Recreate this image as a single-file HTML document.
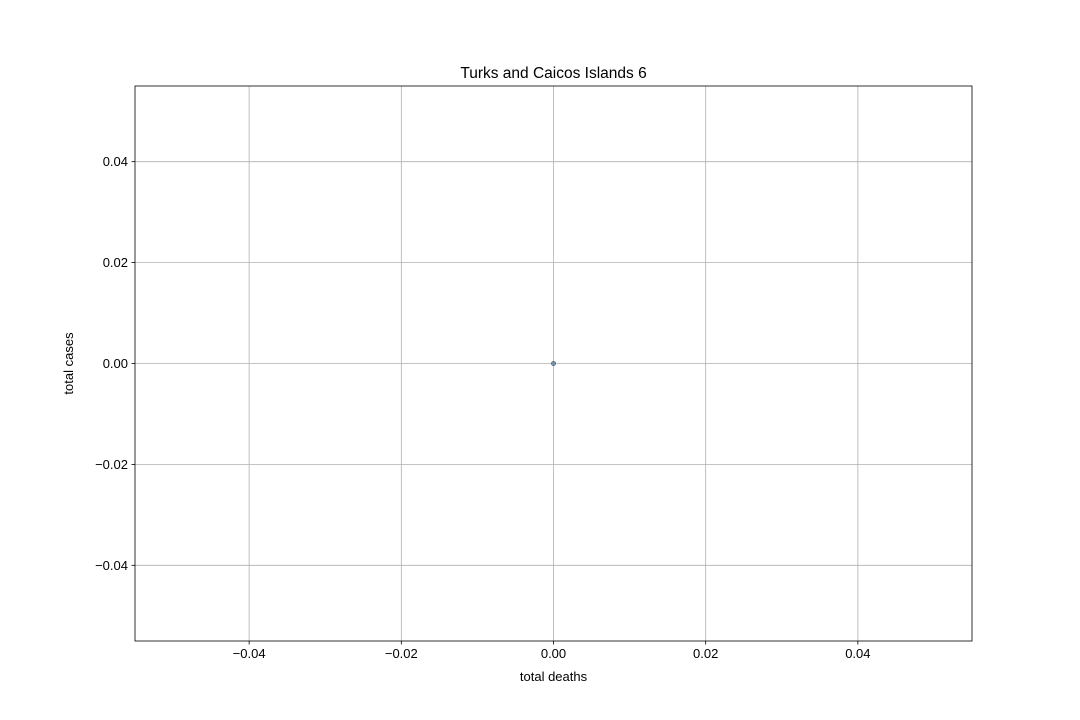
<!DOCTYPE html>
<html><head><meta charset="utf-8"><style>
html,body{margin:0;padding:0;background:#fff;}
svg{display:block;font-family:"Liberation Sans","DejaVu Sans",sans-serif;}
</style></head><body>
<svg id="chart" width="1080" height="720"></svg>
<script>
const xTicks=[-0.04,-0.02,0.00,0.02,0.04];
const yTicks=[-0.04,-0.02,0.00,0.02,0.04];
const deaths=[0];
const cases=[0];
const titleText="Turks and Caicos Islands 6";
const L=135,R=972,T=86,B=641;
const xMin=-0.055,xMax=0.055,yMin=-0.055,yMax=0.055;
const sx=v=>L+(v-xMin)/(xMax-xMin)*(R-L);
const sy=v=>B-(v-yMin)/(yMax-yMin)*(B-T);
const NS="http://www.w3.org/2000/svg";
const svg=document.getElementById('chart');
function mk(tag,attrs,parent){const e=document.createElementNS(NS,tag);for(const k in attrs)e.setAttribute(k,attrs[k]);(parent||svg).appendChild(e);return e;}
const fmt=v=>(v<0?"\u22120":"0")+"."+Math.round(Math.abs(v)*100).toString().padStart(2,"0");
xTicks.forEach(v=>{
  const x=sx(v);
  const g=mk('line',{x1:x,x2:x,y1:T,y2:B,stroke:'#b0b0b0','stroke-width':0.8});
  
  
  const t=mk('line',{x1:x,x2:x,y1:B,y2:B+3.5,stroke:'#000','stroke-width':0.8});
  
  
  const l=mk('text',{x:x,y:B+17,'font-size':13,'text-anchor':'middle',fill:'#000'});
  l.textContent=fmt(v);
  
  
});
yTicks.forEach(v=>{
  const y=sy(v);
  const g=mk('line',{x1:L,x2:R,y1:y,y2:y,stroke:'#b0b0b0','stroke-width':0.8});
  
  
  const t=mk('line',{x1:L-3.5,x2:L,y1:y,y2:y,stroke:'#000','stroke-width':0.8});
  
  
  const l=mk('text',{x:L-7,y:y+4.5,'font-size':13,'text-anchor':'end',fill:'#000'});
  l.textContent=fmt(v);
  
  
});
deaths.forEach((d,i)=>{
  const c=mk('circle',{cx:sx(d),cy:sy(cases[i]),r:2,fill:'#1f77b4','fill-opacity':0.6,stroke:'#555','stroke-width':0.8});
  
  
});
const frame=mk('rect',{x:L,y:T,width:R-L,height:B-T,fill:'none',stroke:'#000','stroke-width':0.8});


const title=mk('text',{x:(L+R)/2,y:78,'font-size':15.5,'text-anchor':'middle',fill:'#000'});
title.textContent=titleText;


const xt=mk('text',{x:(L+R)/2,y:681,'font-size':13,'text-anchor':'middle',fill:'#000'});
xt.textContent="total deaths";


const yt=mk('text',{x:0,y:0,'font-size':13,'text-anchor':'middle',fill:'#000',transform:`translate(73,${(T+B)/2}) rotate(-90)`});
yt.textContent="total cases";


</script>
</body></html>
